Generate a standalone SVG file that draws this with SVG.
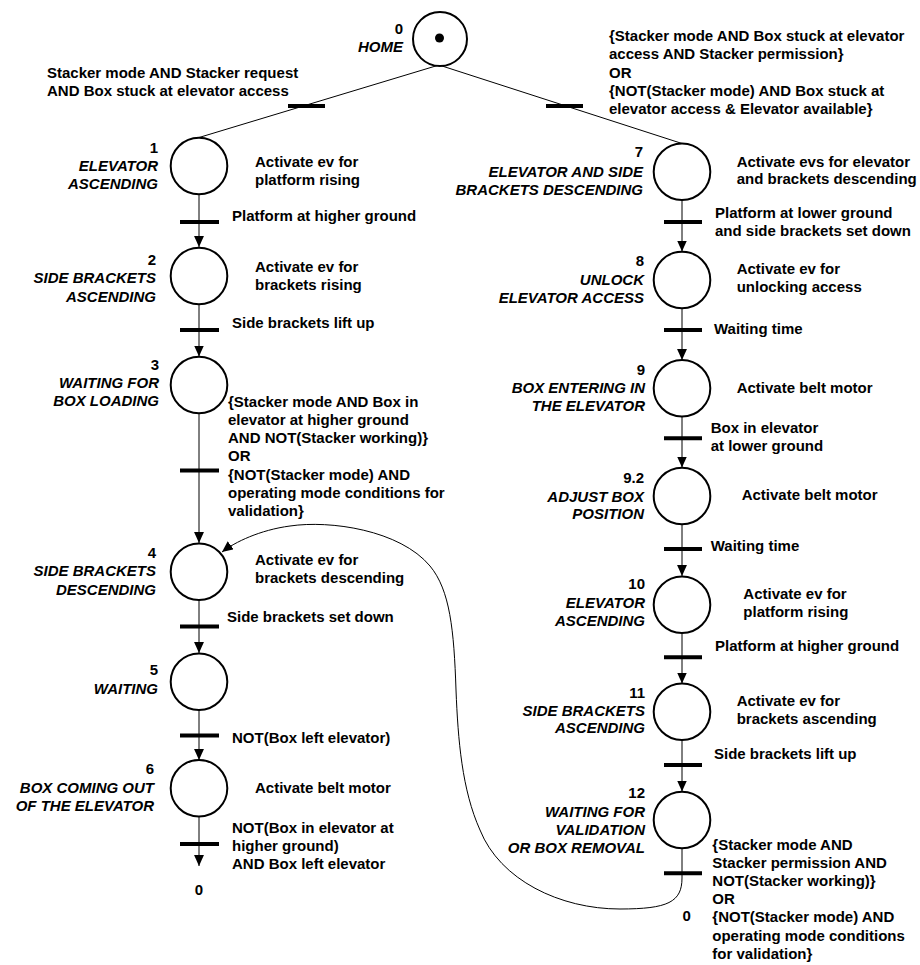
<svg xmlns="http://www.w3.org/2000/svg" width="920" height="965" viewBox="0 0 920 965">
<style>
text{font-family:"Liberation Sans",Arial,Helvetica,sans-serif;font-size:15px;font-weight:bold;fill:#000}
.nm{font-style:italic;text-anchor:end}
.num{text-anchor:end}
.mid{text-anchor:middle}
.st{fill:#fff;stroke:#000;stroke-width:2}
.bar{stroke:#000;stroke-width:4}
.ln{stroke:#000;stroke-width:1;fill:none}
</style>
<defs>
<marker id="ah" markerUnits="userSpaceOnUse" markerWidth="11" markerHeight="10" refX="10" refY="4.5" orient="auto" viewBox="0 0 10 9">
<path d="M0,0 L10,4.5 L0,9 z" fill="#000"/>
</marker>
</defs>

<g id="connectors">
<line class="ln" x1="439" y1="65" x2="199" y2="137.5"/>
<line class="ln" x1="439" y1="65" x2="682" y2="143.5"/>
<line class="ln" x1="199" y1="194" x2="199" y2="247" marker-end="url(#ah)"/>
<line class="ln" x1="199" y1="304" x2="199" y2="356.5" marker-end="url(#ah)"/>
<line class="ln" x1="199" y1="413" x2="199" y2="543" marker-end="url(#ah)"/>
<line class="ln" x1="199" y1="600" x2="199" y2="653" marker-end="url(#ah)"/>
<line class="ln" x1="199" y1="710" x2="199" y2="760" marker-end="url(#ah)"/>
<line class="ln" x1="199" y1="816.5" x2="199" y2="866" marker-end="url(#ah)"/>
<line class="ln" x1="682" y1="200" x2="682" y2="251.5" marker-end="url(#ah)"/>
<line class="ln" x1="682" y1="308" x2="682" y2="360" marker-end="url(#ah)"/>
<line class="ln" x1="682" y1="416.5" x2="682" y2="467.5" marker-end="url(#ah)"/>
<line class="ln" x1="682" y1="524.5" x2="682" y2="576" marker-end="url(#ah)"/>
<line class="ln" x1="682" y1="633" x2="682" y2="683.5" marker-end="url(#ah)"/>
<line class="ln" x1="682" y1="740" x2="682" y2="791.5" marker-end="url(#ah)"/>
<path class="ln" d="M682,848.5 L682,878 C682,902 668,909 620,909 C560,909 500,880 480,830 C462,790 458,740 456,690 C454,630 450,590 430,566 C400,530 330,520 290,526 C260,530 235,542 222,552" marker-end="url(#ah)"/>
</g>

<g id="t0_1">
<line class="bar" x1="288" y1="106" x2="325" y2="106"/>
<text x="47" y="77.5">Stacker mode AND Stacker request</text>
<text x="47" y="95.5">AND Box stuck at elevator access</text>
</g>
<g id="t0_7">
<line class="bar" x1="546" y1="106" x2="583" y2="106"/>
<text x="609" y="41">{Stacker mode AND Box stuck at elevator</text>
<text x="609" y="59">access AND Stacker permission}</text>
<text x="609" y="77.5">OR</text>
<text x="609" y="96">{NOT(Stacker mode) AND Box stuck at</text>
<text x="609" y="114">elevator access &amp; Elevator available}</text>
</g>
<g id="t1_2">
<line class="bar" x1="180" y1="222" x2="219" y2="222"/>
<text x="232" y="220.5">Platform at higher ground</text>
</g>
<g id="t2_3">
<line class="bar" x1="180" y1="330" x2="219" y2="330"/>
<text x="232" y="328">Side brackets lift up</text>
</g>
<g id="t3_4">
<line class="bar" x1="180" y1="470.5" x2="219" y2="470.5"/>
<text x="228" y="406.5">{Stacker mode AND Box in</text>
<text x="228" y="424.8">elevator at higher ground</text>
<text x="228" y="443">AND NOT(Stacker working)}</text>
<text x="228" y="461.3">OR</text>
<text x="228" y="479.6">{NOT(Stacker mode) AND</text>
<text x="228" y="497.9">operating mode conditions for</text>
<text x="228" y="516.2">validation}</text>
</g>
<g id="t4_5">
<line class="bar" x1="180" y1="626.5" x2="219" y2="626.5"/>
<text x="227" y="621.7">Side brackets set down</text>
</g>
<g id="t5_6">
<line class="bar" x1="180" y1="735.5" x2="219" y2="735.5"/>
<text x="232" y="742.7">NOT(Box left elevator)</text>
</g>
<g id="t6_0">
<line class="bar" x1="180" y1="844" x2="219" y2="844"/>
<text x="232" y="833">NOT(Box in elevator at</text>
<text x="232" y="851">higher ground)</text>
<text x="232" y="869.3">AND Box left elevator</text>
<text class="mid" x="199" y="895">0</text>
</g>
<g id="t7_8">
<line class="bar" x1="664" y1="222" x2="702" y2="222"/>
<text x="715" y="218.3">Platform at lower ground</text>
<text x="715" y="236">and side brackets set down</text>
</g>
<g id="t8_9">
<line class="bar" x1="664" y1="330" x2="702" y2="330"/>
<text x="714" y="334">Waiting time</text>
</g>
<g id="t9_92">
<line class="bar" x1="664" y1="438.3" x2="702" y2="438.3"/>
<text x="710.7" y="433.3">Box in elevator</text>
<text x="710.7" y="451">at lower ground</text>
</g>
<g id="t92_10">
<line class="bar" x1="664" y1="549" x2="702" y2="549"/>
<text x="710.7" y="551">Waiting time</text>
</g>
<g id="t10_11">
<line class="bar" x1="664" y1="657.3" x2="702" y2="657.3"/>
<text x="715" y="651">Platform at higher ground</text>
</g>
<g id="t11_12">
<line class="bar" x1="664" y1="765" x2="702" y2="765"/>
<text x="714" y="759.3">Side brackets lift up</text>
</g>
<g id="t12_4">
<line class="bar" x1="664" y1="873.3" x2="702" y2="873.3"/>
<text x="712.3" y="849.5">{Stacker mode AND</text>
<text x="712.3" y="867.7">Stacker permission AND</text>
<text x="712.3" y="885.9">NOT(Stacker working)}</text>
<text x="712.3" y="904.1">OR</text>
<text x="712.3" y="922.3">{NOT(Stacker mode) AND</text>
<text x="712.3" y="940.5">operating mode conditions</text>
<text x="712.3" y="958.7">for validation}</text>
<text class="mid" x="686.7" y="920.7">0</text>
</g>

<g id="s0">
<circle class="st" cx="440" cy="39" r="27"/>
<circle cx="439.5" cy="38" r="4.5" fill="#000"/>
<text class="num" x="403" y="34">0</text>
<text class="nm" x="403" y="52">HOME</text>
</g>
<g id="s1">
<circle class="st" cx="199" cy="166" r="28.3"/>
<text class="num" x="158" y="153">1</text>
<text class="nm" x="158" y="170.5">ELEVATOR</text>
<text class="nm" x="158" y="189">ASCENDING</text>
<text x="255" y="166.7">Activate ev for</text>
<text x="255" y="184.5">platform rising</text>
</g>
<g id="s2">
<circle class="st" cx="199" cy="276" r="28.3"/>
<text class="num" x="156" y="265">2</text>
<text class="nm" x="156" y="283">SIDE BRACKETS</text>
<text class="nm" x="156" y="301.5">ASCENDING</text>
<text x="255" y="271.7">Activate ev for</text>
<text x="255" y="289.5">brackets rising</text>
</g>
<g id="s3">
<circle class="st" cx="199" cy="385" r="28.3"/>
<text class="num" x="159" y="370">3</text>
<text class="nm" x="159" y="388">WAITING FOR</text>
<text class="nm" x="159" y="406">BOX LOADING</text>
</g>
<g id="s4">
<circle class="st" cx="199" cy="571.7" r="28.3"/>
<text class="num" x="156" y="558">4</text>
<text class="nm" x="156" y="576">SIDE BRACKETS</text>
<text class="nm" x="156" y="595">DESCENDING</text>
<text x="255" y="565">Activate ev for</text>
<text x="255" y="583">brackets descending</text>
</g>
<g id="s5">
<circle class="st" cx="199" cy="681.7" r="28.3"/>
<text class="num" x="158" y="675">5</text>
<text class="nm" x="158" y="694">WAITING</text>
</g>
<g id="s6">
<circle class="st" cx="199" cy="788.3" r="28.3"/>
<text class="num" x="154" y="774">6</text>
<text class="nm" x="154" y="793">BOX COMING OUT</text>
<text class="nm" x="154" y="811">OF THE ELEVATOR</text>
<text x="255" y="793">Activate belt motor</text>
</g>
<g id="s7">
<circle class="st" cx="682" cy="171.7" r="28.3"/>
<text class="num" x="643" y="157">7</text>
<text class="nm" x="643" y="177">ELEVATOR AND SIDE</text>
<text class="nm" x="643" y="195">BRACKETS DESCENDING</text>
<text x="736.7" y="166.7">Activate evs for elevator</text>
<text x="736.7" y="184.3">and brackets descending</text>
</g>
<g id="s8">
<circle class="st" cx="682" cy="280" r="28.3"/>
<text class="num" x="644" y="265.7">8</text>
<text class="nm" x="644" y="285">UNLOCK</text>
<text class="nm" x="644" y="303">ELEVATOR ACCESS</text>
<text x="736.7" y="274">Activate ev for</text>
<text x="736.7" y="292.3">unlocking access</text>
</g>
<g id="s9">
<circle class="st" cx="682" cy="388.3" r="28.3"/>
<text class="num" x="645" y="375">9</text>
<text class="nm" x="645" y="393">BOX ENTERING IN</text>
<text class="nm" x="645" y="411">THE ELEVATOR</text>
<text x="736.7" y="392.7">Activate belt motor</text>
</g>
<g id="s9_2">
<circle class="st" cx="682" cy="496" r="28.3"/>
<text class="num" x="644" y="483">9.2</text>
<text class="nm" x="644" y="501.7">ADJUST BOX</text>
<text class="nm" x="644" y="519">POSITION</text>
<text x="741.7" y="500">Activate belt motor</text>
</g>
<g id="s10">
<circle class="st" cx="682" cy="604.7" r="28.3"/>
<text class="num" x="645" y="589.3">10</text>
<text class="nm" x="645" y="608">ELEVATOR</text>
<text class="nm" x="645" y="626">ASCENDING</text>
<text x="743.3" y="599">Activate ev for</text>
<text x="743.3" y="616.7">platform rising</text>
</g>
<g id="s11">
<circle class="st" cx="682" cy="711.7" r="28.3"/>
<text class="num" x="645" y="698">11</text>
<text class="nm" x="645" y="716">SIDE BRACKETS</text>
<text class="nm" x="645" y="733.3">ASCENDING</text>
<text x="736.7" y="706">Activate ev for</text>
<text x="736.7" y="724">brackets ascending</text>
</g>
<g id="s12">
<circle class="st" cx="682" cy="820" r="28.3"/>
<text class="num" x="645" y="798">12</text>
<text class="nm" x="645" y="816.7">WAITING FOR</text>
<text class="nm" x="645" y="835">VALIDATION</text>
<text class="nm" x="645" y="853">OR BOX REMOVAL</text>
</g>
</svg>
